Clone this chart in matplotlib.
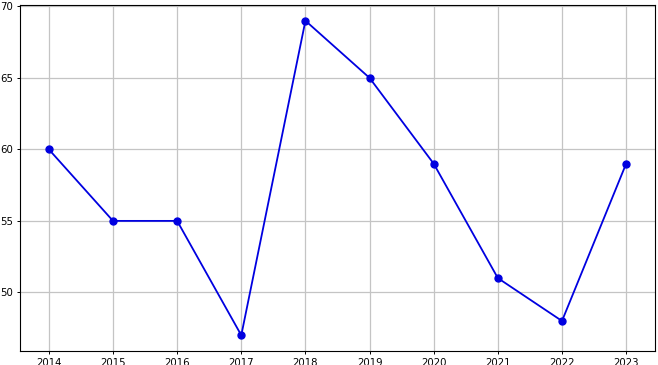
import matplotlib
matplotlib.use('Agg')
from matplotlib import pyplot as plt

plt.rcParams['font.family'] = ['Noto Sans CJK SC', 'DejaVu Sans']

years = [2014, 2015, 2016, 2017, 2018, 2019, 2020, 2021, 2022, 2023]
values = [60, 55, 55, 47, 69, 65, 59, 51, 48, 59]
title = '年度 数值 图'

fig = plt.figure(figsize=(6.58, 3.65), dpi=100)
ax = fig.add_axes([20 / 658, 14 / 365, 635 / 658, 346 / 365])
ax.plot(years, values, marker='o', color='#0000e0', linewidth=1.3, markersize=5)
ax.set_xticks(years)
ax.set_yticks([50, 55, 60, 65, 70])
ax.tick_params(labelsize=7.3, length=2.5, width=0.7, pad=2.2)
for lab in ax.get_xticklabels() + ax.get_yticklabels():
    lab.set_family('DejaVu Sans')
for sp in ax.spines.values():
    sp.set_linewidth(0.8)
ax.grid(True, color='#c4c4c4', linewidth=0.9)
ax.set_title(title, fontsize=8, pad=4.2)
fig.savefig('out.png', dpi=100)
